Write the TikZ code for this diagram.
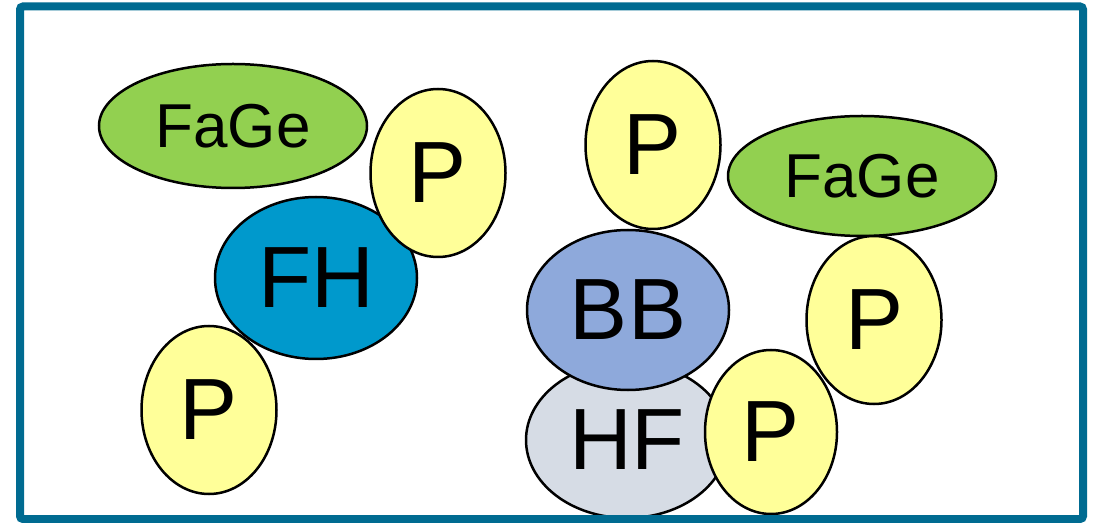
\documentclass[tikz,border=0pt]{standalone}
\usepackage{fontspec}
\setmainfont{Liberation Sans}
\usetikzlibrary{shapes.geometric}

\definecolor{framecol}{HTML}{006B91}
\definecolor{fagecol}{HTML}{92D050}
\definecolor{pcol}{HTML}{FFFF99}
\definecolor{fhcol}{HTML}{0099CC}
\definecolor{bbcol}{HTML}{8EA9DB}
\definecolor{hfcol}{HTML}{D6DCE5}

\tikzset{
  blob/.style={ellipse, draw=black, line width=2.5pt, inner sep=0pt},
  fage/.style={blob, fill=fagecol, minimum width=268pt, minimum height=124pt, font=\fontsize{62}{62}\selectfont},
  pro/.style={blob, fill=pcol, minimum width=135pt, minimum height=168pt, font=\fontsize{87}{87}\selectfont},
  core/.style={blob, minimum width=202pt, minimum height=160pt, font=\fontsize{87}{87}\selectfont},
}

\begin{document}
\begin{tikzpicture}[x=1pt, y=1pt]

\def\picw{1099}
\def\pich{522}

\path [use as bounding box] (0,0) rectangle (\picw,\pich);

% LEFT GROUP
\node [fage] (fageL) at (233,396) {FaGe};
\node [core, fill=fhcol, minimum height=162pt] (fh) at (316,244) {FH};
\node [pro] (pTL) at (438,349) {P};
\node [pro] (pBL) at (209,112) {P};

% RIGHT GROUP
\node [core, fill=hfcol, minimum height=156pt] (hf) at (627,82) {HF};
\node [core, fill=bbcol] (bb) at (628,212) {BB};
\node [pro] (pTM) at (653,377) {P};
\node [fage, minimum height=120pt] (fageR) at (862,346) {FaGe};
\node [pro] (pR) at (874,202) {P};
\node [pro, minimum width=132pt, minimum height=164pt] (pBR) at (771,90) {P};

% FRAME
\draw [line width=8pt, draw=framecol, rounded corners=3pt] (20,3) rectangle (1083,515.5);

\end{tikzpicture}
\end{document}
